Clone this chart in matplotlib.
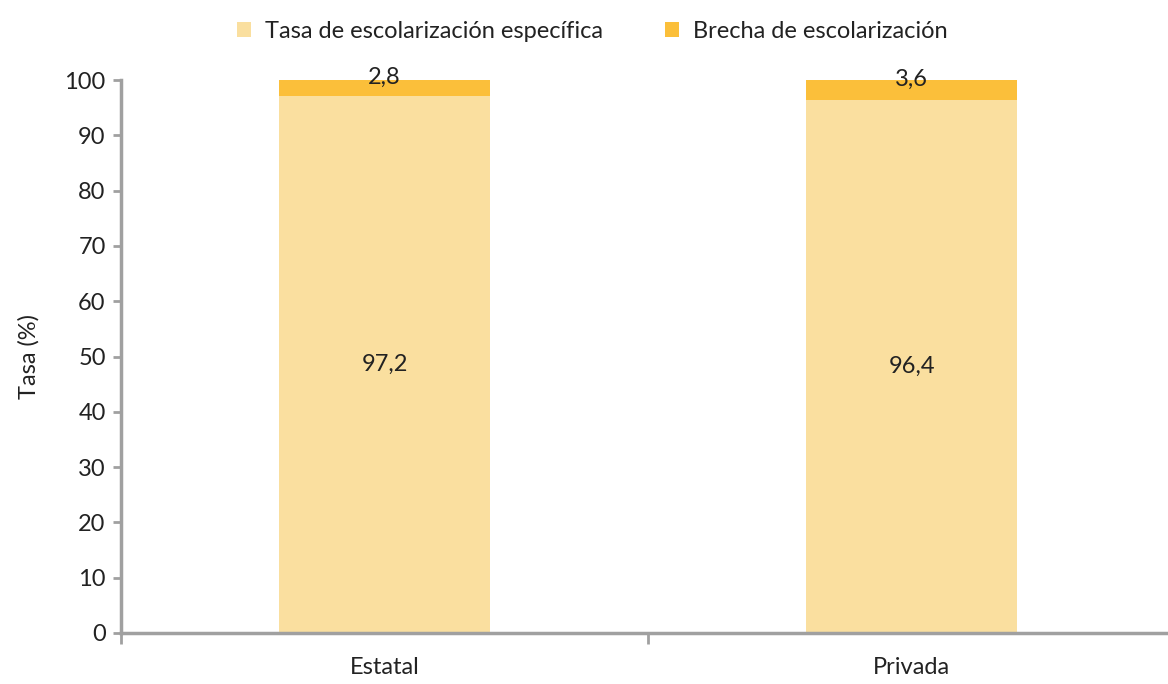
import numpy as np
import matplotlib.pyplot as plt

plt.rcParams['font.family'] = ['Lato', 'DejaVu Sans']

categories = ['Estatal', 'Privada']
tasa = [97.2, 96.4]
brecha = [2.8, 3.6]

light = '#FADF9F'
dark = '#FBBF3A'
grey = '#A0A0A0'
txt = '#222222'
fs = 17

fig = plt.figure(figsize=(11.68, 6.84), dpi=100)
ax = fig.add_axes([0.1036, 0.0746, 0.9024, 0.8084])

x = np.arange(len(categories))
b1 = ax.bar(x, tasa, width=0.4, color=light, label='Tasa de escolarización específica')
b2 = ax.bar(x, brecha, width=0.4, bottom=tasa, color=dark, label='Brecha de escolarización')

for xi, t, b in zip(x, tasa, brecha):
    ax.text(xi, t / 2, f'{t:.1f}'.replace('.', ','), ha='center', va='center',
            fontsize=fs, color=txt)
    ax.text(xi, t + b / 2 + 1.9, f'{b:.1f}'.replace('.', ','), ha='center', va='center',
            fontsize=fs, color=txt)

ax.set_xlim(-0.5, 1.5)
ax.set_ylim(0, 100)
ax.set_yticks(np.arange(0, 101, 10))
ax.set_xticks(x)
ax.set_xticklabels(categories)
ax.set_xticks([-0.5, 0.5, 1.5], minor=True)
ax.tick_params(axis='x', which='major', length=0, pad=17, labelsize=fs, labelcolor=txt)
ax.tick_params(axis='x', which='minor', length=8, width=2, color=grey)
ax.tick_params(axis='y', length=6, width=2, color=grey, labelsize=fs, labelcolor=txt, pad=5)

for s in ['top', 'right']:
    ax.spines[s].set_visible(False)
for s in ['left', 'bottom']:
    ax.spines[s].set_color(grey)
    ax.spines[s].set_linewidth(2.5)

ax.set_ylabel('Tasa (%)', fontsize=fs, color=txt, labelpad=18)

fig.legend(handles=[b1, b2], loc='upper center', bbox_to_anchor=(0.507, 1.0), ncol=2,
           frameon=False, fontsize=fs, handlelength=0.6, handleheight=0.6,
           handletextpad=0.6, columnspacing=2.6, labelcolor=txt)

fig.savefig('out.png', dpi=100)
